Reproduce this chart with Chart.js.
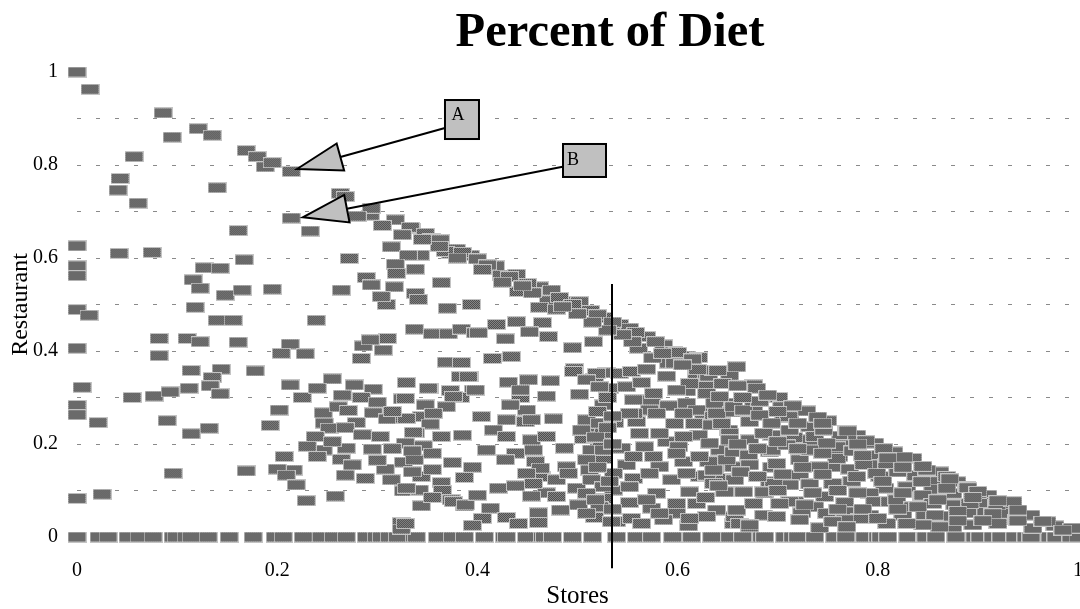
<!DOCTYPE html>
<html>
<head>
<meta charset="utf-8">
<title>Percent of Diet</title>
<script src="https://cdn.jsdelivr.net/npm/chart.js@4"></script>
<style>
  html, body { margin: 0; padding: 0; background: #ffffff; }
  canvas { display: block; }
</style>
</head>
<body>
<canvas id="dietChart" width="1080" height="609"></canvas>
<script>
// ---- text ----
const chartTitle = 'Percent of Diet';
const xAxisLabel = 'Stores';
const yAxisLabel = 'Restaurant';

// ---- ticks ----
const xTickValues = [0, 0.2, 0.4, 0.6, 0.8, 1];
const yGridValues = [0, 0.1, 0.2, 0.3, 0.4, 0.5, 0.6, 0.7, 0.8, 0.9, 1];
const yLabelValues = [0, 0.2, 0.4, 0.6, 0.8, 1];

// ---- data: share of diet from stores (x) and restaurants (y) ----
// households with no restaurant share: store share only
const storesOnlyShare = [
  0, 0.022, 0.031, 0.051, 0.062, 0.076, 0.096, 0.099, 0.109, 0.114, 0.131, 0.152,
  0.176, 0.198, 0.206, 0.226, 0.244, 0.256, 0.269, 0.289, 0.299, 0.304, 0.312, 0.320,
  0.337, 0.339, 0.360, 0.375, 0.387, 0.407, 0.427, 0.429, 0.449, 0.465, 0.467, 0.475,
  0.495, 0.515, 0.539, 0.559, 0.574, 0.595, 0.614, 0.634, 0.652, 0.665, 0.684, 0.687,
  0.707, 0.715, 0.720, 0.737, 0.757, 0.768, 0.787, 0.800, 0.803, 0.810, 0.830, 0.847,
  0.848, 0.858, 0.878, 0.897, 0.902, 0.915, 0.923, 0.937, 0.948, 0.953, 0.972, 0.978,
  0.993, 1.0
];

// [stores, restaurant] for store share below 0.2
const lowStorePoints = [
  [0, 1.0], [0.013, 0.963], [0.086, 0.912], [0.121, 0.878], [0.135, 0.864], [0.095, 0.860],
  [0.057, 0.818], [0.169, 0.831], [0.180, 0.818], [0.188, 0.796], [0.195, 0.805],
  [0.043, 0.771], [0.041, 0.746], [0.140, 0.751], [0.061, 0.718], [0.161, 0.659],
  [0, 0.626], [0.042, 0.610], [0.075, 0.612], [0, 0.583], [0, 0.562], [0.127, 0.579],
  [0.143, 0.578], [0.167, 0.596], [0.116, 0.553], [0.123, 0.535], [0.148, 0.520],
  [0.165, 0.531], [0.195, 0.533], [0.118, 0.494], [0, 0.489], [0.012, 0.477],
  [0.140, 0.466], [0.156, 0.466], [0.082, 0.427], [0.110, 0.427], [0.123, 0.420],
  [0.161, 0.419], [0, 0.406], [0.082, 0.390], [0.114, 0.358], [0.144, 0.361],
  [0.135, 0.343], [0.178, 0.357], [0.005, 0.322], [0.055, 0.300], [0.077, 0.303],
  [0.093, 0.312], [0.112, 0.320], [0.133, 0.325], [0.143, 0.308], [0, 0.283], [0, 0.263],
  [0.021, 0.246], [0.090, 0.250], [0.114, 0.222], [0.132, 0.234], [0.193, 0.240],
  [0.096, 0.137], [0.169, 0.142], [0, 0.083], [0.025, 0.092]
];

// [stores, restaurant] for store share 0.2 to 0.4
const midStorePoints = [
  [0.214, 0.786], [0.214, 0.686], [0.233, 0.658], [0.263, 0.739], [0.268, 0.732],
  [0.293, 0.692], [0.294, 0.707], [0.318, 0.682], [0.334, 0.664], [0.333, 0.666],
  [0.348, 0.653], [0.354, 0.642], [0.363, 0.639], [0.379, 0.619], [0.373, 0.610],
  [0.393, 0.606], [0.368, 0.614], [0.314, 0.624], [0.343, 0.606], [0.331, 0.606],
  [0.272, 0.599], [0.264, 0.531], [0.289, 0.558], [0.294, 0.542], [0.318, 0.587],
  [0.319, 0.567], [0.338, 0.576], [0.317, 0.538], [0.338, 0.524], [0.341, 0.511],
  [0.309, 0.500], [0.364, 0.547], [0.370, 0.492], [0.394, 0.500], [0.239, 0.466],
  [0.304, 0.517], [0.213, 0.415], [0.204, 0.395], [0.228, 0.394], [0.286, 0.411],
  [0.310, 0.427], [0.293, 0.424], [0.306, 0.402], [0.284, 0.384], [0.337, 0.447],
  [0.355, 0.437], [0.371, 0.437], [0.384, 0.447], [0.398, 0.439], [0.213, 0.327],
  [0.202, 0.273], [0.255, 0.340], [0.277, 0.327], [0.296, 0.318], [0.284, 0.300],
  [0.329, 0.333], [0.325, 0.297], [0.352, 0.320], [0.373, 0.315], [0.392, 0.345],
  [0.369, 0.376], [0.384, 0.375], [0.396, 0.316], [0.383, 0.300], [0.246, 0.267],
  [0.261, 0.280], [0.271, 0.272], [0.296, 0.267], [0.279, 0.246], [0.247, 0.245],
  [0.252, 0.234], [0.268, 0.235], [0.238, 0.216], [0.310, 0.254], [0.327, 0.255],
  [0.344, 0.259], [0.356, 0.265], [0.369, 0.280], [0.353, 0.243], [0.338, 0.224],
  [0.364, 0.216], [0.385, 0.219], [0.328, 0.202], [0.346, 0.196], [0.303, 0.216],
  [0.295, 0.189], [0.269, 0.191], [0.246, 0.187], [0.240, 0.173], [0.264, 0.167],
  [0.207, 0.173], [0.216, 0.144], [0.200, 0.146], [0.209, 0.133], [0.219, 0.112],
  [0.229, 0.078], [0.268, 0.133], [0.288, 0.126], [0.308, 0.146], [0.314, 0.123],
  [0.326, 0.161], [0.337, 0.166], [0.344, 0.130], [0.326, 0.099], [0.342, 0.101],
  [0.364, 0.117], [0.365, 0.100], [0.387, 0.128], [0.374, 0.080], [0.387, 0.067],
  [0.344, 0.067], [0.258, 0.088], [0.324, 0.031], [0.324, 0.017], [0.329, 0.332],
  [0.383, 0.345], [0.391, 0.345], [0.351, 0.320], [0.398, 0.316], [0.328, 0.298],
  [0.376, 0.302], [0.348, 0.284], [0.356, 0.266], [0.329, 0.255], [0.336, 0.225],
  [0.329, 0.105], [0.376, 0.076], [0.388, 0.069], [0.328, 0.029], [0.385, 0.612],
  [0.380, 0.600], [0.362, 0.625], [0.345, 0.640], [0.325, 0.650], [0.305, 0.670],
  [0.280, 0.690], [0.225, 0.300], [0.240, 0.320], [0.265, 0.305], [0.300, 0.290],
  [0.315, 0.270], [0.285, 0.220], [0.255, 0.205], [0.230, 0.195], [0.275, 0.155],
  [0.300, 0.165], [0.315, 0.190], [0.335, 0.185], [0.355, 0.180], [0.375, 0.160],
  [0.395, 0.150], [0.355, 0.145], [0.335, 0.140], [0.355, 0.085], [0.400, 0.090]
];

// [stores, restaurant] for store share 0.4 to 0.66
const highStorePoints = [
  [0.418, 0.583], [0.424, 0.563], [0.439, 0.565], [0.441, 0.528], [0.462, 0.538],
  [0.474, 0.531], [0.471, 0.508], [0.489, 0.506], [0.462, 0.494], [0.502, 0.506],
  [0.479, 0.490], [0.513, 0.487], [0.526, 0.472], [0.542, 0.457], [0.552, 0.449],
  [0.569, 0.431], [0.561, 0.406], [0.586, 0.413], [0.596, 0.398], [0.609, 0.389],
  [0.621, 0.386], [0.591, 0.374], [0.401, 0.439], [0.419, 0.457], [0.439, 0.463],
  [0.465, 0.461], [0.452, 0.441], [0.471, 0.431], [0.428, 0.426], [0.516, 0.420],
  [0.495, 0.407], [0.415, 0.384], [0.434, 0.388], [0.497, 0.362], [0.529, 0.353],
  [0.542, 0.352], [0.554, 0.356], [0.569, 0.361], [0.589, 0.346], [0.597, 0.374],
  [0.619, 0.352], [0.629, 0.348], [0.652, 0.348], [0.431, 0.333], [0.451, 0.338],
  [0.473, 0.336], [0.517, 0.341], [0.532, 0.320], [0.549, 0.323], [0.564, 0.332],
  [0.609, 0.314], [0.629, 0.330], [0.629, 0.309], [0.443, 0.300], [0.469, 0.303],
  [0.502, 0.307], [0.574, 0.295], [0.591, 0.282], [0.609, 0.288], [0.637, 0.288],
  [0.656, 0.288], [0.404, 0.259], [0.429, 0.252], [0.448, 0.248], [0.449, 0.273],
  [0.476, 0.254], [0.526, 0.284], [0.512, 0.237], [0.537, 0.246], [0.559, 0.248],
  [0.572, 0.273], [0.597, 0.244], [0.617, 0.244], [0.644, 0.246], [0.626, 0.266],
  [0.579, 0.266], [0.416, 0.230], [0.429, 0.216], [0.454, 0.209], [0.469, 0.216],
  [0.506, 0.212], [0.524, 0.205], [0.544, 0.191], [0.567, 0.194], [0.589, 0.205],
  [0.601, 0.194], [0.621, 0.219], [0.642, 0.187], [0.409, 0.187], [0.438, 0.180],
  [0.456, 0.187], [0.487, 0.191], [0.428, 0.166], [0.458, 0.162], [0.526, 0.169],
  [0.549, 0.155], [0.489, 0.151], [0.512, 0.144], [0.582, 0.151], [0.606, 0.162],
  [0.637, 0.148], [0.656, 0.151], [0.556, 0.126], [0.594, 0.123], [0.622, 0.130],
  [0.647, 0.126], [0.464, 0.130], [0.479, 0.123], [0.536, 0.101], [0.421, 0.105],
  [0.438, 0.110], [0.469, 0.095], [0.499, 0.105], [0.552, 0.108], [0.579, 0.094],
  [0.612, 0.097], [0.647, 0.097], [0.454, 0.088], [0.501, 0.069], [0.526, 0.083],
  [0.552, 0.074], [0.574, 0.062], [0.599, 0.072], [0.599, 0.051], [0.639, 0.058],
  [0.413, 0.062], [0.429, 0.042], [0.441, 0.029], [0.461, 0.052], [0.461, 0.031],
  [0.517, 0.042], [0.539, 0.033], [0.554, 0.040], [0.564, 0.029], [0.586, 0.037],
  [0.611, 0.024], [0.656, 0.029], [0.534, 0.033], [0.519, 0.352], [0.631, 0.346],
  [0.443, 0.316], [0.612, 0.330], [0.599, 0.316], [0.556, 0.266], [0.619, 0.273],
  [0.636, 0.259], [0.654, 0.269], [0.433, 0.284], [0.454, 0.252], [0.629, 0.133],
  [0.634, 0.241], [0.651, 0.230], [0.631, 0.162], [0.659, 0.366], [0.636, 0.359],
  [0.636, 0.144], [0.657, 0.123], [0.657, 0.044], [0.644, 0.244],
  [0.400, 0.598], [0.410, 0.585], [0.432, 0.560], [0.450, 0.545], [0.482, 0.515],
  [0.495, 0.500], [0.520, 0.478], [0.535, 0.462], [0.558, 0.440], [0.578, 0.420],
  [0.600, 0.397], [0.615, 0.383], [0.640, 0.358],
  [0.496, 0.356], [0.509, 0.338], [0.522, 0.323], [0.509, 0.252], [0.522, 0.245],
  [0.504, 0.230], [0.526, 0.223], [0.514, 0.187], [0.526, 0.187], [0.509, 0.166],
  [0.536, 0.137], [0.514, 0.123], [0.526, 0.108], [0.491, 0.137], [0.463, 0.148],
  [0.449, 0.137], [0.456, 0.115], [0.479, 0.087], [0.509, 0.094], [0.522, 0.065],
  [0.509, 0.051], [0.483, 0.058], [0.576, 0.309], [0.556, 0.295], [0.552, 0.266],
  [0.606, 0.266], [0.639, 0.266], [0.562, 0.223], [0.582, 0.223], [0.606, 0.216],
  [0.632, 0.202], [0.652, 0.223], [0.556, 0.173], [0.576, 0.173], [0.599, 0.180],
  [0.622, 0.173], [0.649, 0.166], [0.572, 0.137], [0.609, 0.137], [0.636, 0.115],
  [0.569, 0.080], [0.619, 0.072], [0.582, 0.051], [0.629, 0.044], [0.642, 0.302],
  [0.656, 0.280], [0.652, 0.209], [0.656, 0.183], [0.659, 0.058],
  [0.620, 0.360], [0.605, 0.370], [0.575, 0.385], [0.585, 0.395], [0.555, 0.420],
  [0.545, 0.435], [0.530, 0.445], [0.515, 0.462], [0.500, 0.480], [0.485, 0.495],
  [0.455, 0.525], [0.445, 0.540], [0.425, 0.548], [0.405, 0.575], [0.612, 0.040],
  [0.628, 0.085], [0.641, 0.110], [0.645, 0.330], [0.530, 0.300], [0.520, 0.270],
  [0.535, 0.260], [0.530, 0.235], [0.518, 0.215], [0.535, 0.200], [0.520, 0.150],
  [0.532, 0.120], [0.518, 0.080], [0.535, 0.060], [0.405, 0.040], [0.395, 0.025]
];

// [stores, restaurant] for store share above 0.66
const topStorePoints = [
  [0.676, 0.327], [0.701, 0.300], [0.676, 0.280], [0.704, 0.280], [0.712, 0.259],
  [0.679, 0.320], [0.729, 0.271], [0.750, 0.250], [0.763, 0.217], [0.779, 0.219],
  [0.797, 0.202], [0.816, 0.183], [0.835, 0.169], [0.862, 0.140], [0.879, 0.119],
  [0.910, 0.090], [0.928, 0.072], [0.953, 0.047], [0.977, 0.024], [0.994, 0.019],
  [0.666, 0.273], [0.672, 0.248], [0.694, 0.219], [0.706, 0.257], [0.714, 0.212],
  [0.732, 0.209], [0.732, 0.237], [0.672, 0.209], [0.671, 0.176], [0.692, 0.183],
  [0.722, 0.166], [0.761, 0.173], [0.797, 0.176], [0.759, 0.151], [0.791, 0.155],
  [0.694, 0.150], [0.672, 0.155], [0.692, 0.119], [0.722, 0.133], [0.712, 0.112],
  [0.732, 0.114], [0.774, 0.120], [0.802, 0.130], [0.820, 0.140], [0.838, 0.132],
  [0.854, 0.119], [0.844, 0.087], [0.807, 0.105], [0.792, 0.094], [0.666, 0.097],
  [0.687, 0.095], [0.717, 0.076], [0.747, 0.087], [0.767, 0.074], [0.737, 0.065],
  [0.686, 0.047], [0.699, 0.044], [0.724, 0.052], [0.749, 0.051], [0.767, 0.054],
  [0.792, 0.047], [0.825, 0.047], [0.847, 0.047], [0.865, 0.045], [0.891, 0.052],
  [0.908, 0.054], [0.910, 0.074], [0.875, 0.094], [0.900, 0.094], [0.877, 0.069],
  [0.662, 0.029], [0.672, 0.022], [0.722, 0.037], [0.742, 0.020], [0.782, 0.040],
  [0.852, 0.026], [0.875, 0.022], [0.895, 0.026], [0.920, 0.029], [0.955, 0.019],
  [0.932, 0.051], [0.682, 0.292], [0.764, 0.198], [0.772, 0.146], [0.822, 0.158],
  [0.855, 0.103], [0.829, 0.108], [0.686, 0.223], [0.682, 0.262], [0.711, 0.259],
  [0.716, 0.214], [0.737, 0.216], [0.759, 0.194], [0.759, 0.169], [0.694, 0.187],
  [0.786, 0.156], [0.799, 0.137], [0.844, 0.119], [0.869, 0.105], [0.696, 0.115],
  [0.686, 0.097], [0.712, 0.076], [0.727, 0.069], [0.767, 0.037], [0.797, 0.076],
  [0.812, 0.076], [0.845, 0.090], [0.857, 0.047], [0.862, 0.022], [0.919, 0.069],
  [0.935, 0.076], [0.845, 0.026], [0.672, 0.026],
  [0.694, 0.245], [0.712, 0.230], [0.746, 0.230], [0.769, 0.230], [0.749, 0.202],
  [0.732, 0.187], [0.709, 0.198], [0.699, 0.158], [0.742, 0.151], [0.809, 0.158],
  [0.779, 0.130], [0.755, 0.115], [0.849, 0.144], [0.869, 0.130], [0.889, 0.108],
  [0.819, 0.080], [0.835, 0.065], [0.855, 0.072], [0.892, 0.072], [0.939, 0.037],
  [0.969, 0.033], [0.676, 0.072], [0.702, 0.072], [0.755, 0.033], [0.809, 0.029],
  [0.829, 0.029], [0.769, 0.022],
  [0.690, 0.305], [0.715, 0.282], [0.740, 0.258], [0.770, 0.228], [0.788, 0.207],
  [0.806, 0.190], [0.826, 0.172], [0.845, 0.152], [0.872, 0.125], [0.890, 0.106],
  [0.900, 0.098], [0.920, 0.078], [0.940, 0.058], [0.965, 0.034], [0.985, 0.015],
  [0.663, 0.140], [0.680, 0.130], [0.705, 0.135], [0.725, 0.150], [0.745, 0.135],
  [0.760, 0.100], [0.780, 0.095], [0.805, 0.120], [0.825, 0.095], [0.840, 0.065],
  [0.860, 0.080], [0.880, 0.055], [0.895, 0.085], [0.915, 0.050], [0.940, 0.035],
  [0.700, 0.100], [0.735, 0.095], [0.760, 0.060], [0.785, 0.060], [0.800, 0.040],
  [0.820, 0.060], [0.880, 0.035], [0.905, 0.035], [0.660, 0.200], [0.680, 0.190],
  [0.700, 0.205], [0.720, 0.190], [0.745, 0.180], [0.775, 0.185], [0.785, 0.175],
  [0.810, 0.170], [0.825, 0.150], [0.780, 0.200], [0.720, 0.245], [0.745, 0.245],
  [0.700, 0.270], [0.665, 0.300], [0.660, 0.325]
];

// ---- reference line and callouts (data coordinates) ----
const divider = { x: 0.5345, top: 0.544, bottom: -0.067 };
const callouts = [
  { text: 'A', box: [0.3846, 0.8978], from: [0.3676, 0.8796], tip: [0.2198, 0.7914] },
  { text: 'B', box: [0.5070, 0.8097], from: [0.4852, 0.7963], tip: [0.2255, 0.6875] }
];

// ---- styling ----
const serif = '"Liberation Serif", "Times New Roman", serif';
const calloutStyle = {
  A: { w: 34, h: 39, tx: -4, ty: -4.5 },
  B: { w: 43, h: 33, tx: -11.5, ty: -0.5 }
};

// Rectangular dithered marker used for every point
function buildMarker() {
  const c = document.createElement('canvas');
  c.width = 19; c.height = 11;
  const g = c.getContext('2d');
  g.fillStyle = '#c4c4c4';
  g.fillRect(0, 0, 19, 11);
  for (let py = 1; py < 10; py++) {
    for (let px = 1; px < 18; px++) {
      g.fillStyle = ((px + py) % 2) ? '#4a4a4a' : '#8a8a8a';
      g.fillRect(px, py, 1, 1);
    }
  }
  return c;
}
const marker = buildMarker();

const points = []
  .concat(storesOnlyShare.map(x => ({ x, y: 0 })))
  .concat(lowStorePoints.map(([x, y]) => ({ x, y })))
  .concat(midStorePoints.map(([x, y]) => ({ x, y })))
  .concat(highStorePoints.map(([x, y]) => ({ x, y })))
  .concat(topStorePoints.map(([x, y]) => ({ x, y })));

const overlayPlugin = {
  id: 'dietOverlay',
  afterDatasetsDraw(chart) {
    const { ctx } = chart;
    const xs = chart.scales.x, ys = chart.scales.y;
    ctx.save();

    // vertical divider
    ctx.strokeStyle = '#000';
    ctx.lineWidth = 2;
    const dx = Math.round(xs.getPixelForValue(divider.x));
    ctx.beginPath();
    ctx.moveTo(dx, ys.getPixelForValue(divider.top));
    ctx.lineTo(dx, ys.getPixelForValue(divider.bottom));
    ctx.stroke();

    // callout arrows and boxes
    callouts.forEach(c => {
      const st = calloutStyle[c.text];
      const fx = xs.getPixelForValue(c.from[0]), fy = ys.getPixelForValue(c.from[1]);
      const tx = xs.getPixelForValue(c.tip[0]), ty = ys.getPixelForValue(c.tip[1]);
      const len = Math.hypot(fx - tx, fy - ty);
      const ux = (fx - tx) / len, uy = (fy - ty) / len;
      const headLen = 45, headHalf = 14;
      const bx = tx + ux * headLen, by = ty + uy * headLen;
      const nx = -uy, ny = ux;

      ctx.lineWidth = 2;
      ctx.strokeStyle = '#000';
      ctx.beginPath();
      ctx.moveTo(fx, fy);
      ctx.lineTo(bx, by);
      ctx.stroke();

      ctx.beginPath();
      ctx.moveTo(tx, ty);
      ctx.lineTo(bx + nx * headHalf, by + ny * headHalf);
      ctx.lineTo(bx - nx * headHalf, by - ny * headHalf);
      ctx.closePath();
      ctx.fillStyle = '#c0c0c0';
      ctx.fill();
      ctx.lineJoin = 'miter';
      ctx.stroke();

      const cx = xs.getPixelForValue(c.box[0]), cy = ys.getPixelForValue(c.box[1]);
      ctx.fillStyle = '#c0c0c0';
      ctx.fillRect(cx - st.w / 2, cy - st.h / 2, st.w, st.h);
      ctx.lineWidth = 2;
      ctx.strokeRect(cx - st.w / 2, cy - st.h / 2, st.w, st.h);

      ctx.fillStyle = '#000';
      ctx.font = '18px ' + serif;
      ctx.textAlign = 'center';
      ctx.textBaseline = 'middle';
      ctx.fillText(c.text, cx + st.tx, cy + st.ty);
    });

    ctx.restore();
  },
  afterDraw(chart) {
    const { ctx } = chart;
    ctx.save();
    ctx.fillStyle = '#000';
    ctx.font = 'bold 48.5px ' + serif;
    ctx.textAlign = 'center';
    ctx.textBaseline = 'alphabetic';
    ctx.fillText(chartTitle, 610, 46);
    ctx.restore();
  }
};

new Chart(document.getElementById('dietChart'), {
  type: 'scatter',
  data: {
    datasets: [{
      label: 'Households',
      data: points,
      pointStyle: marker,
      pointRadius: 9,
      pointHoverRadius: 9,
      clip: false
    }]
  },
  options: {
    responsive: false,
    animation: false,
    devicePixelRatio: 1,
    events: [],
    layout: { autoPadding: false, padding: { top: 72, right: 2, left: 0, bottom: 0 } },
    plugins: {
      legend: { display: false },
      tooltip: { enabled: false },
      title: { display: false }
    },
    scales: {
      x: {
        type: 'linear',
        min: 0,
        max: 1,
        afterBuildTicks: s => { s.ticks = xTickValues.map(v => ({ value: v })); },
        afterFit: s => { s.height = 72; s.paddingLeft = 0; s.paddingRight = 0; },
        grid: { display: false, drawTicks: false },
        border: { display: false },
        ticks: {
          padding: 22,
          color: '#000',
          font: { family: serif, size: 20 },
          callback: v => String(v)
        },
        title: {
          display: true,
          text: xAxisLabel,
          color: '#000',
          font: { family: serif, size: 25, lineHeight: 1 },
          padding: { top: 0, bottom: 0 }
        }
      },
      y: {
        type: 'linear',
        min: 0,
        max: 1,
        afterBuildTicks: s => { s.ticks = yGridValues.map(v => ({ value: v })); },
        afterFit: s => { s.width = 77; s.paddingTop = 0; s.paddingBottom = 0; },
        grid: {
          drawTicks: false,
          lineWidth: 1,
          color: ctx => (ctx.tick && (ctx.tick.value === 0 || ctx.tick.value === 1))
            ? 'rgba(0,0,0,0)' : '#8a8a8a'
        },
        border: { display: false, dash: [4, 15] },
        ticks: {
          padding: 19,
          color: '#000',
          font: { family: serif, size: 20 },
          callback: v => yLabelValues.includes(v) ? String(v) : ''
        },
        title: {
          display: true,
          text: yAxisLabel,
          color: '#000',
          font: { family: serif, size: 24 },
          padding: { top: 6, bottom: 0 }
        }
      }
    }
  },
  plugins: [overlayPlugin]
});
</script>
</body>
</html>
